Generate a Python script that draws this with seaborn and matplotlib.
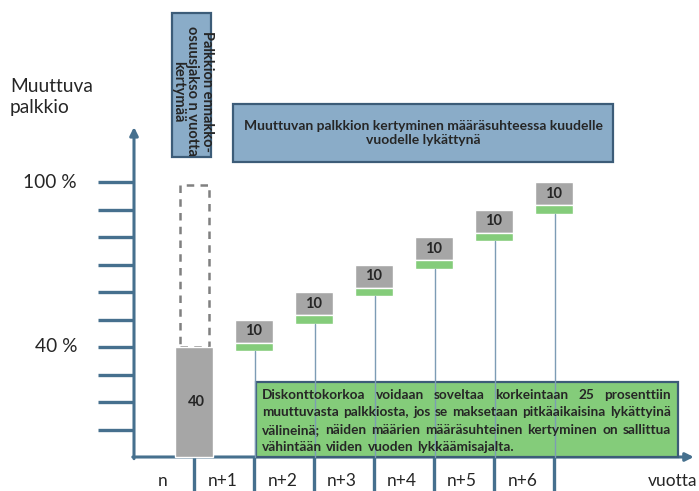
import numpy as np
import pandas as pd
import matplotlib
matplotlib.use("Agg")
import matplotlib.pyplot as plt
from matplotlib.patches import Rectangle
import seaborn as sns

sns.set_style("white")
plt.rcParams["font.family"] = ["Lato", "DejaVu Sans"]

# Tiedot
vuodet = ["n", "n+1", "n+2", "n+3", "n+4", "n+5", "n+6"]
ennakko = 40                      # ennakko-osuus, %
lykatty = [10, 10, 10, 10, 10, 10]  # lykätty osuus vuosittain, %
y_arvot = [40, 100]
y_tekstit = ["40 %", "100 %"]
y_otsikko = "Muuttuva\npalkkio"
x_otsikko = "vuotta"
ennakko_teksti = "Palkkion ennakko-\nosuusjakso n vuotta\nkertymää"
lykkays_teksti = "Muuttuvan palkkion kertyminen määräsuhteessa kuudelle\nvuodelle lykättynä"
diskontto_rivit = [
    "Diskonttokorkoa voidaan soveltaa korkeintaan 25 prosenttiin",
    "muuttuvasta palkkiosta, jos se maksetaan pitkäaikaisina lykättyinä",
    "välineinä; näiden määrien määräsuhteinen kertyminen on sallittua",
    "vähintään viiden vuoden lykkäämisajalta.",
]

AKSELI = "#46708e"
HARMAA = "#a6a6a6"
VIHREA = "#84cc7a"
SININEN = "#8aacc8"
REUNA = "#3c5c78"

fig = plt.figure(figsize=(6.99, 4.91), dpi=100)
ax = fig.add_axes([0, 0, 1, 1])

# pylväät: ennakko vuoden n lopussa, lykätyt osuudet kertyen
paikat = np.arange(1, len(vuodet) + 1)
pohjat = np.cumsum([ennakko] + lykatty[:-1])
vihrea_h = 3.0
harmaa_df = pd.DataFrame({
    "x": paikat,
    "h": [ennakko] + [v - vihrea_h / 2 for v in lykatty],
    "b": [0] + list(pohjat + vihrea_h / 2),
})
vihrea_df = pd.DataFrame({"x": paikat[1:], "h": [vihrea_h] * len(lykatty),
                          "b": pohjat - vihrea_h / 2})

sns.barplot(data=harmaa_df, x="x", y="h", bottom=harmaa_df["b"], native_scale=True,
            width=0.62, color=HARMAA, saturation=1, errorbar=None, ax=ax, zorder=3)
sns.barplot(data=vihrea_df, x="x", y="h", bottom=vihrea_df["b"], native_scale=True,
            width=0.62, color=VIHREA, saturation=1, errorbar=None, ax=ax, zorder=3)

ax.set_xlim(-134 / 60, (699 - 134) / 60)
ax.set_ylim(-(491 - 457) / 2.75, 457 / 2.75)
ax.axis("off")

# pylväiden arvot
ax.text(paikat[0] + 0.04, ennakko / 2, str(ennakko), ha="center", va="center",
        fontsize=10.5, fontweight="bold", zorder=5)
for p, b, v in zip(paikat[1:], pohjat, lykatty):
    ax.text(p, b + vihrea_h / 2 + (v - vihrea_h / 2) / 2, str(v), ha="center", va="center",
            fontsize=10.5, fontweight="bold", zorder=5)
    ax.plot([p + 0.02, p + 0.02], [0, b - vihrea_h / 2], color="#7d9cb5", lw=1, zorder=4)

# katkoviiva 100 %:iin
ax.add_patch(Rectangle((paikat[0] - 0.23, ennakko), 0.48, 100 - ennakko - 1, fill=False,
                       ls=(0, (3, 2.5)), lw=1.8, ec="#808080", zorder=2))

# akselit
ax.annotate("", xy=(0, 120), xytext=(0, -0.6),
            arrowprops=dict(arrowstyle="-|>", color=AKSELI, lw=2.2, mutation_scale=12,
                            shrinkA=0, shrinkB=0), zorder=2)
ax.annotate("", xy=(9.33, 0), xytext=(-0.02, 0),
            arrowprops=dict(arrowstyle="-|>", color=AKSELI, lw=2.2, mutation_scale=12,
                            shrinkA=0, shrinkB=0), zorder=2)
for t in range(10, 101, 10):
    ax.plot([-0.6, 0], [t, t], color=AKSELI, lw=2.4, solid_capstyle="butt", zorder=2)
for p in paikat:
    ax.plot([p, p], [0, -13], color=AKSELI, lw=2.4, solid_capstyle="butt", zorder=2)

for k, v in enumerate(vuodet):
    ax.text(k + 0.47, -8.8, v, ha="center", va="center", fontsize=12.5)
ax.text(9.38, -8.6, x_otsikko, ha="right", va="center", fontsize=12.5)
for arvo, teksti in zip(y_arvot, y_tekstit):
    ax.text(-0.95, arvo, teksti, ha="right", va="center", fontsize=13.8)
ax.text(-2.07, 138, y_otsikko, ha="left", va="top", fontsize=13.8, linespacing=1.3)

# laatikot
ax.add_patch(Rectangle((0.633, 109), 0.65, 52.5, fc=SININEN, ec=REUNA, lw=1.6, zorder=3))
ax.text(0.97, 133, ennakko_teksti, rotation=270, ha="center", va="center",
        multialignment="center", fontsize=10.5, fontweight="bold", linespacing=1.05, zorder=4)

ax.add_patch(Rectangle((1.65, 107.3), 6.33, 21.1, fc=SININEN, ec=REUNA, lw=1.6, zorder=3))
ax.text(4.82, 117.8, lykkays_teksti, ha="center", va="center", multialignment="center",
        fontsize=10, fontweight="bold", linespacing=1.25, zorder=4)

ax.add_patch(Rectangle((2.03, 0), 7.04, 27.3, fc=VIHREA, ec=REUNA, lw=1.6, zorder=3))

# tasattu teksti vihreään laatikkoon
renderer = fig.canvas.get_renderer()
px_per_x = fig.bbox.width / (ax.get_xlim()[1] - ax.get_xlim()[0])
x0, x1 = 2.13, 8.95
for i, (rivi, y) in enumerate(zip(diskontto_rivit, [22.5, 16.2, 9.9, 3.6])):
    sanat = rivi.split()
    tekstit = [ax.text(0, y, s, ha="left", va="center", fontsize=9.8,
                       fontweight="bold", zorder=5) for s in sanat]
    leveydet = [t.get_window_extent(renderer=renderer).width / px_per_x for t in tekstit]
    if i < len(diskontto_rivit) - 1:
        vali = (x1 - x0 - sum(leveydet)) / (len(sanat) - 1)
    else:
        vali = 0.07
    x = x0
    for t, w in zip(tekstit, leveydet):
        t.set_x(x)
        x += w + vali

fig.savefig("out.png", dpi=100)
